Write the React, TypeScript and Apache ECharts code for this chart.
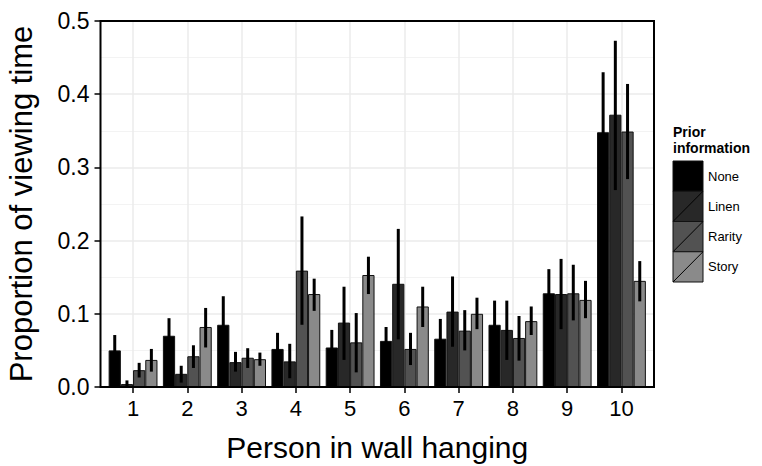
import React, { useEffect, useRef } from "react";
import * as echarts from "echarts";

const categories = ["1", "2", "3", "4", "5", "6", "7", "8", "9", "10"];
const groupNames = ["None", "Linen", "Rarity", "Story"];

const noneVals = [0.05, 0.07, 0.085, 0.052, 0.054, 0.063, 0.066, 0.085, 0.128, 0.348];
const noneLow = [0.029, 0.046, 0.046, 0.03, 0.03, 0.044, 0.039, 0.052, 0.095, 0.266];
const noneHigh = [0.071, 0.094, 0.124, 0.074, 0.078, 0.082, 0.093, 0.118, 0.161, 0.43];

const linenVals = [0.004, 0.018, 0.034, 0.035, 0.088, 0.141, 0.103, 0.078, 0.127, 0.372];
const linenLow = [0.0, 0.006, 0.021, 0.012, 0.037, 0.065, 0.055, 0.037, 0.079, 0.269];
const linenHigh = [0.009, 0.029, 0.048, 0.059, 0.137, 0.216, 0.151, 0.118, 0.175, 0.473];

const rarityVals = [0.023, 0.042, 0.04, 0.159, 0.061, 0.052, 0.077, 0.067, 0.128, 0.349];
const rarityLow = [0.013, 0.026, 0.026, 0.085, 0.02, 0.03, 0.05, 0.036, 0.091, 0.284];
const rarityHigh = [0.033, 0.057, 0.053, 0.233, 0.101, 0.074, 0.105, 0.097, 0.167, 0.414];

const storyVals = [0.037, 0.082, 0.038, 0.127, 0.153, 0.11, 0.1, 0.09, 0.119, 0.145];
const storyLow = [0.021, 0.054, 0.029, 0.104, 0.127, 0.082, 0.079, 0.071, 0.094, 0.117];
const storyHigh = [0.052, 0.108, 0.047, 0.148, 0.178, 0.137, 0.122, 0.11, 0.145, 0.172];

const values = [noneVals, linenVals, rarityVals, storyVals];
const lows = [noneLow, linenLow, rarityLow, storyLow];
const highs = [noneHigh, linenHigh, rarityHigh, storyHigh];
const colors = ["#000000", "#282828", "#525252", "#8a8a8a"];

const FONT = "'Liberation Sans', Arial, Helvetica, sans-serif";

export default function App() {
  const ref = useRef<HTMLDivElement>(null);
  useEffect(() => {
    if (!ref.current) return;
    const chart = echarts.init(ref.current, null, { renderer: "svg" });

    const plotL = 100.5, plotR = 654, plotT = 21, plotB = 387;
    const step = (plotR - plotL) / 10.2;
    const gridBL = plotL + 0.1 * step;
    const gridBW = step * 10;

    const barSeries = groupNames.map((name, s) => ({
      type: "bar",
      name,
      xAxisIndex: 1,
      yAxisIndex: 1,
      data: values[s],
      barGap: "0%",
      barCategoryGap: "10%",
      itemStyle: { color: colors[s], borderColor: "#111", borderWidth: 1 },
      z: 2,
    }));

    const errSeries = groupNames.map((name, s) => ({
      type: "custom",
      name: name + " error",
      xAxisIndex: 1,
      yAxisIndex: 1,
      z: 4,
      encode: { x: 0, y: [1, 2] },
      data: categories.map((_, i) => [i, lows[s][i], highs[s][i]]),
      renderItem: (params: any, api: any) => {
        const ci = api.value(0);
        const lo = api.coord([ci, api.value(1)]);
        const hi = api.coord([ci, api.value(2)]);
        const band = api.size([1, 0])[0];
        const bw = (band * 0.9) / 4;
        const x = lo[0] + (s - 1.5) * bw;
        return {
          type: "line",
          shape: { x1: x, y1: lo[1], x2: x, y2: hi[1] },
          style: { stroke: "#000", lineWidth: 3 },
        };
      },
    }));

    const keyX = 673, keyY = 161, keyW = 30, keyH = 30.25;
    const legendEls: any[] = [
      {
        type: "text",
        x: keyX,
        y: 132,
        style: { text: "Prior", font: `bold 14px ${FONT}`, fill: "#000", verticalAlign: "middle" },
      },
      {
        type: "text",
        x: keyX,
        y: 148,
        style: { text: "information", font: `bold 14px ${FONT}`, fill: "#000", verticalAlign: "middle" },
      },
    ];
    groupNames.forEach((name, i) => {
      const y0 = keyY + i * keyH;
      legendEls.push({
        type: "rect",
        shape: { x: keyX, y: y0, width: keyW, height: keyH },
        style: { fill: colors[i], stroke: "#111", lineWidth: 1 },
      });
      legendEls.push({
        type: "line",
        shape: { x1: keyX, y1: y0 + keyH, x2: keyX + keyW, y2: y0 },
        style: { stroke: "#000", lineWidth: 1 },
      });
      legendEls.push({
        type: "text",
        x: keyX + keyW + 5,
        y: y0 + keyH / 2,
        style: { text: name, font: `13px ${FONT}`, fill: "#000", verticalAlign: "middle" },
      });
    });

    chart.setOption({
      animation: false,
      backgroundColor: "#ffffff",
      grid: [
        { left: plotL, top: plotT, width: plotR - plotL, height: plotB - plotT, outerBoundsMode: "none", containLabel: false },
        { left: gridBL, top: plotT, width: gridBW, height: plotB - plotT, outerBoundsMode: "none", containLabel: false },
      ],
      xAxis: [
        { type: "value", gridIndex: 0, min: 0, max: 1, show: false },
        {
          type: "category",
          gridIndex: 1,
          data: categories,
          axisLine: { show: false },
          axisTick: { show: true, alignWithLabel: true, length: 6, lineStyle: { color: "#000", width: 1.5 } },
          axisLabel: { fontSize: 22, color: "#000", margin: 10, fontFamily: FONT },
          splitLine: { show: true, alignWithLabel: true, lineStyle: { color: "#ebebeb", width: 1.5 } },
          name: "Person in wall hanging",
          nameLocation: "middle",
          nameGap: 45,
          nameTextStyle: { fontSize: 30, color: "#000", fontFamily: FONT },
        },
      ],
      yAxis: [
        {
          type: "value",
          gridIndex: 0,
          min: 0,
          max: 0.5,
          interval: 0.1,
          axisLine: { show: false },
          axisTick: { show: true, length: 6, lineStyle: { color: "#000", width: 1.5 } },
          axisLabel: {
            fontSize: 23,
            color: "#000",
            margin: 11,
            fontFamily: FONT,
            formatter: (v: number) => v.toFixed(1),
          },
          splitLine: { show: true, lineStyle: { color: "#ebebeb", width: 1.5 } },
          minorTick: { show: false, splitNumber: 2 },
          minorSplitLine: { show: true, lineStyle: { color: "#f3f3f3", width: 1 } },
          name: "Proportion of viewing time",
          nameLocation: "middle",
          nameGap: 64,
          nameTextStyle: { fontSize: 31, color: "#000", fontFamily: FONT },
        },
        { type: "value", gridIndex: 1, min: 0, max: 0.5, interval: 0.1, show: false },
      ],
      series: [...barSeries, ...errSeries],
      graphic: [
        {
          type: "rect",
          z: 100,
          shape: { x: plotL, y: plotT, width: plotR - plotL, height: plotB - plotT },
          style: { fill: "none", stroke: "#000", lineWidth: 2 },
        },
        ...legendEls,
      ],
    });
    return () => chart.dispose();
  }, []);
  return (
    <div
      ref={ref}
      style={{ position: "fixed", left: 0, top: 0, width: 762, height: 466, background: "#fff" }}
    />
  );
}
